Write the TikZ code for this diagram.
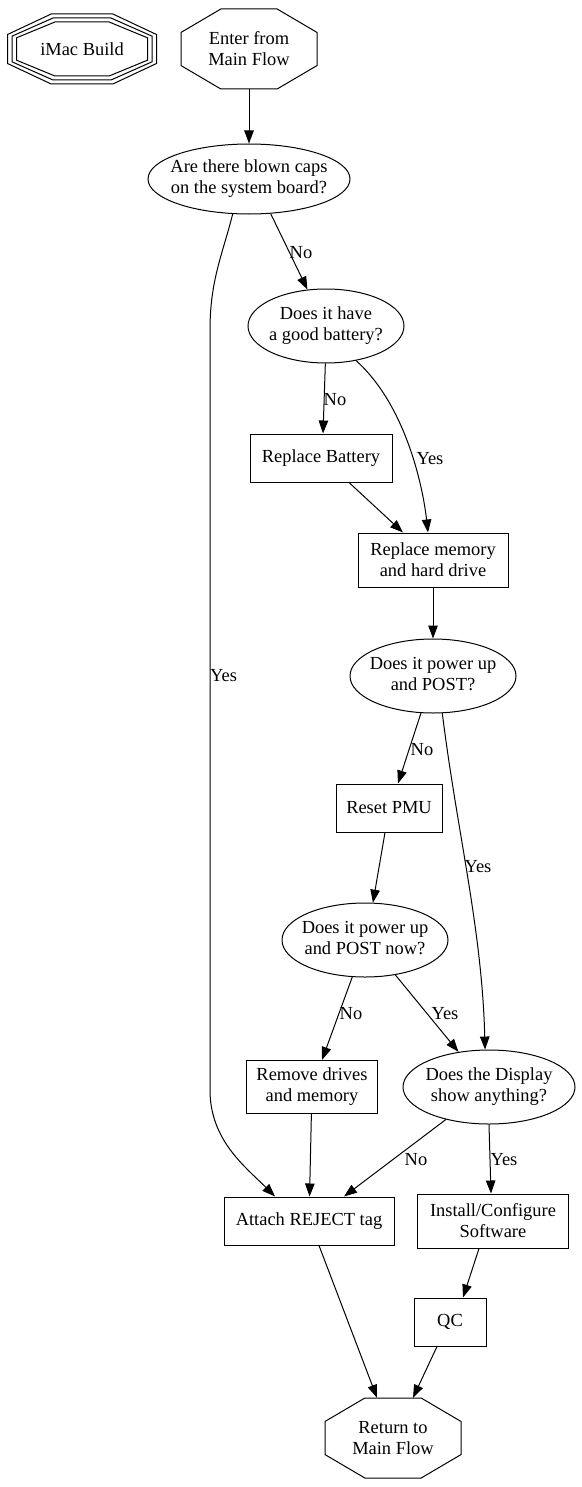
\documentclass[tikz,border=0pt]{standalone}
\usepackage{fontspec}
\setmainfont{Liberation Serif}
\usetikzlibrary{arrows.meta,shapes.geometric}

\tikzset{
  flow/.style={font=\fontsize{18.5}{21}\selectfont, inner sep=0pt},
  box/.style={flow, draw, rectangle, align=center, line width=1bp},
  decision/.style={flow, draw, ellipse, line width=1bp},
  terminal/.style={flow, rectangle, align=center, minimum width=136bp, minimum height=80bp},
  lbl/.style={flow},
  arr/.style={line width=1bp, -{Triangle[length=13bp,width=9.5bp]}}
}
\newcommand{\inell}[1]{\makebox[0pt]{\begin{tabular}{@{}c@{}}#1\end{tabular}}}
\newcommand{\octagonat}[3]{%
  \draw[line width=1bp, shift={(#1)}] ({-(#2)},{-0.414*(#3)}) -- ({-(#2)},{0.414*(#3)})
    -- ({-0.414*(#2)},{#3}) -- ({0.414*(#2)},{#3}) -- ({#2},{0.414*(#3)})
    -- ({#2},{-0.414*(#3)}) -- ({0.414*(#2)},{-(#3)}) -- ({-0.414*(#2)},{-(#3)}) -- cycle;}

\begin{document}
\begin{tikzpicture}[x=1bp,y=-1bp]
  \useasboundingbox (0,0) rectangle (582,1487);

  \node[terminal] (imac) at (82,49) {iMac Build};
  \foreach \dx/\dy in {0/0,4.5/4,9/8} {\octagonat{imac}{65.5+\dx}{27+\dy}}
  \node[terminal] (enter) at (249,49) {Enter from\\Main Flow};
  \octagonat{enter}{68}{40}

  \node[decision,minimum width=202bp,minimum height=70bp] (caps) at (249,179)
    {\inell{Are there blown caps\\on the system board?}};
  \node[decision,minimum width=156bp,minimum height=74bp] (battery) at (326,326)
    {\inell{Does it have\\a good battery?}};
  \node[box,minimum width=142bp,minimum height=48bp] (replbat) at (321,458) {Replace Battery};
  \node[box,minimum width=150bp,minimum height=54bp] (replmem) at (433,560) {Replace memory\\and hard drive};
  \node[decision,minimum width=166bp,minimum height=74bp] (post) at (433,676)
    {\inell{Does it power up\\and POST?}};
  \node[box,minimum width=106bp,minimum height=48bp] (pmu) at (389,808) {Reset PMU};
  \node[decision,minimum width=166bp,minimum height=74bp] (postnow) at (365,940)
    {\inell{Does it power up\\and POST now?}};
  \node[box,minimum width=131bp,minimum height=53bp] (removedrv) at (312,1087) {Remove drives\\and memory};
  \node[decision,minimum width=172bp,minimum height=74bp] (display) at (489,1087)
    {\inell{Does the Display\\show anything?}};
  \node[box,minimum width=170bp,minimum height=48bp] (reject) at (309,1221) {Attach REJECT tag};
  \node[box,minimum width=151bp,minimum height=54bp] (install) at (493,1221) {Install/Configure\\Software};
  \node[box,minimum width=72bp,minimum height=48bp] (qc) at (450,1322) {QC};
  \node[terminal] (ret) at (393,1438) {Return to\\Main Flow};
  \octagonat{ret}{68}{40}

  \coordinate (yestop) at (210,330);
  \coordinate (yesbot) at (210,1090);

  \draw[arr] (enter) -- (caps);
  \draw[arr] (caps.-58) -- (battery.117);
  \draw[arr] (caps.-115) .. controls +(-10,40) and +(0,-50) .. (yestop) -- (yesbot)
    .. controls +(0,50) and +(-30,-30) .. ([xshift=-34bp]reject.north);
  \draw[arr] (battery.-91) -- ([xshift=2bp]replbat.north);
  \draw[arr] (battery.-49) .. controls +(50,45) and +(-5,-45) .. ([xshift=-5bp]replmem.north);
  \draw[arr] ([xshift=28bp]replbat.south) -- ([xshift=-30bp]replmem.north);
  \draw[arr] (replmem) -- (post);
  \draw[arr] (post.-108) -- ([xshift=9bp]pmu.north);
  \draw[arr] (post.-76) .. controls +(15,120) and +(-3,-120) .. (display.96);
  \draw[arr] ([xshift=-4bp]pmu.south) -- (postnow.78);
  \draw[arr] (postnow.-109) -- ([xshift=10bp]removedrv.north);
  \draw[arr] (postnow.-49) -- (display.131);
  \draw[arr] (removedrv) -- (reject);
  \draw[arr] (display.-143) -- ([xshift=35bp]reject.north);
  \draw[arr] (display.-90) -- ([xshift=-2bp]install.north);
  \draw[arr] ([xshift=10bp]reject.south) -- ([xshift=-16bp]ret.north);
  \draw[arr] ([xshift=-14bp]install.south) -- ([xshift=13bp]qc.north);
  \draw[arr] ([xshift=-13bp]qc.south) -- ([xshift=20bp]ret.north);

  \node[lbl] (lcapsno) at (301,253) {No};
  \node[lbl,anchor=west] (lcapsyes) at (210,676) {Yes};
  \node[lbl] (lbatno) at (335,400) {No};
  \node[lbl] (lbatyes) at (430,459) {Yes};
  \node[lbl] (lpostno) at (422,750) {No};
  \node[lbl] (lpostyes) at (478,867) {Yes};
  \node[lbl] (lnowno) at (351,1014) {No};
  \node[lbl] (lnowyes) at (445,1014) {Yes};
  \node[lbl] (ldispno) at (416,1160) {No};
  \node[lbl] (ldispyes) at (504,1160) {Yes};
\end{tikzpicture}
\end{document}
